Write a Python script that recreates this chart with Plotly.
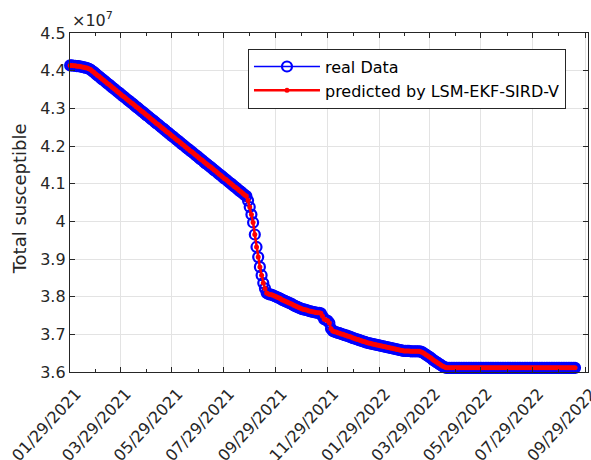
import pandas as pd
import plotly.graph_objects as go

# Total susceptible population (x 1e7), sampled every 2 days from 01/29/2021
start_date = "2021-01-29"
step = "2D"
real_values = [
    4.414, 4.414, 4.413, 4.413, 4.412, 4.412, 4.411, 4.410, 4.409, 4.408,
    4.407, 4.405, 4.403, 4.399, 4.396, 4.392, 4.388, 4.385, 4.381, 4.377,
    4.374, 4.370, 4.366, 4.363, 4.359, 4.355, 4.352, 4.348, 4.344, 4.341,
    4.337, 4.333, 4.330, 4.326, 4.322, 4.319, 4.315, 4.312, 4.308, 4.304,
    4.301, 4.297, 4.293, 4.290, 4.286, 4.282, 4.279, 4.275, 4.271, 4.268,
    4.264, 4.260, 4.257, 4.253, 4.249, 4.246, 4.242, 4.238, 4.235, 4.231,
    4.227, 4.224, 4.220, 4.216, 4.213, 4.209, 4.205, 4.202, 4.198, 4.194,
    4.191, 4.187, 4.184, 4.180, 4.176, 4.173, 4.169, 4.165, 4.162, 4.158,
    4.154, 4.151, 4.147, 4.144, 4.140, 4.136, 4.133, 4.129, 4.125, 4.122,
    4.118, 4.114, 4.111, 4.107, 4.103, 4.100, 4.096, 4.092, 4.089, 4.085,
    4.081, 4.078, 4.074, 4.070, 4.067, 4.055, 4.038, 4.018, 3.997, 3.965,
    3.932, 3.905, 3.879, 3.857, 3.836, 3.822, 3.810, 3.807, 3.806, 3.805,
    3.803, 3.801, 3.799, 3.797, 3.795, 3.792, 3.790, 3.788, 3.786, 3.784,
    3.782, 3.780, 3.777, 3.775, 3.773, 3.771, 3.769, 3.767, 3.766, 3.765,
    3.764, 3.762, 3.761, 3.760, 3.759, 3.758, 3.757, 3.757, 3.756, 3.748,
    3.740, 3.738, 3.736, 3.730, 3.715, 3.709, 3.707, 3.706, 3.704, 3.703,
    3.701, 3.700, 3.698, 3.697, 3.695, 3.694, 3.692, 3.690, 3.689, 3.687,
    3.686, 3.684, 3.683, 3.681, 3.680, 3.678, 3.677, 3.676, 3.675, 3.674,
    3.673, 3.672, 3.671, 3.670, 3.669, 3.668, 3.667, 3.666, 3.665, 3.664,
    3.663, 3.662, 3.661, 3.660, 3.659, 3.658, 3.657, 3.656, 3.656, 3.656,
    3.656, 3.655, 3.655, 3.655, 3.655, 3.655, 3.655, 3.654, 3.652, 3.649,
    3.646, 3.643, 3.640, 3.637, 3.633, 3.630, 3.627, 3.624, 3.621, 3.618,
    3.615, 3.613, 3.611, 3.611, 3.611, 3.611, 3.611, 3.611, 3.611, 3.611,
    3.611, 3.611, 3.611, 3.611, 3.611, 3.611, 3.611, 3.611, 3.611, 3.611,
    3.611, 3.611, 3.611, 3.611, 3.611, 3.611, 3.611, 3.611, 3.611, 3.611,
    3.611, 3.611, 3.611, 3.611, 3.611, 3.611, 3.611, 3.611, 3.611, 3.611,
    3.611, 3.611, 3.611, 3.611, 3.611, 3.611, 3.611, 3.611, 3.611, 3.611,
    3.611, 3.611, 3.611, 3.611, 3.611, 3.611, 3.611, 3.611, 3.611, 3.611,
    3.611, 3.611, 3.611, 3.611, 3.611, 3.611, 3.611, 3.611, 3.611, 3.611,
    3.611, 3.611, 3.611, 3.611, 3.611, 3.611, 3.611, 3.611, 3.611,
]
# The filter output follows the observations closely
predicted_values = list(real_values)

y_tick_values = [3.6, 3.7, 3.8, 3.9, 4.0, 4.1, 4.2, 4.3, 4.4, 4.5]
y_tick_labels = ["3.6", "3.7", "3.8", "3.9", "4", "4.1", "4.2", "4.3", "4.4", "4.5"]

x_tick_dates = [
    "2021-01-29", "2021-03-29", "2021-05-29", "2021-07-29", "2021-09-29",
    "2021-11-29", "2022-01-29", "2022-03-29", "2022-05-29", "2022-07-29",
    "2022-09-29",
]
x_minor_dates = [
    "2021-02-28", "2021-04-29", "2021-06-29", "2021-08-29", "2021-10-29",
    "2021-12-29", "2022-02-28", "2022-04-29", "2022-06-29", "2022-08-29",
]
x_range = ["2021-01-28 20:00", "2022-10-02 08:00"]

dates = pd.date_range(start_date, periods=len(real_values), freq=step)
x_tick_labels = [pd.Timestamp(d).strftime("%m/%d/%Y") for d in x_tick_dates]

ink = "#262626"
font_family = "DejaVu Sans"

fig = go.Figure()
fig.add_trace(go.Scatter(
    x=dates, y=real_values, name="real Data",
    mode="lines+markers", cliponaxis=False,
    line=dict(color="#0000ff", width=1.3),
    marker=dict(symbol="circle-open", size=10, color="#0000ff",
                line=dict(color="#0000ff", width=2.2)),
))
fig.add_trace(go.Scatter(
    x=dates, y=predicted_values, name="predicted by LSM-EKF-SIRD-V",
    mode="lines+markers", cliponaxis=False,
    line=dict(color="#ff0000", width=2.5),
    marker=dict(symbol="circle", size=5, color="#ff0000"),
))

axis_common = dict(
    showline=True, linecolor=ink, linewidth=1.3, mirror="ticks",
    ticks="inside", ticklen=5, tickcolor=ink, tickwidth=1,
    showgrid=True, gridcolor="#e3e3e3", gridwidth=1,
    zeroline=False, automargin=False, ticklabeloverflow="allow",
    tickfont=dict(family=font_family, size=16, color=ink),
)

fig.update_xaxes(
    type="date", range=x_range,
    tickmode="array", tickvals=x_tick_dates, ticktext=x_tick_labels,
    tickangle=-47, ticklabelshift=6, ticklabelstandoff=5,
    minor=dict(tickmode="array", tickvals=x_minor_dates, ticks="inside",
               ticklen=3, tickcolor=ink, showgrid=False),
    **axis_common,
)
fig.update_yaxes(
    range=[3.6, 4.5], tickmode="array",
    tickvals=y_tick_values, ticktext=y_tick_labels,
    **axis_common,
)

fig.update_layout(
    width=591, height=460,
    margin=dict(l=70, r=3, t=33, b=88),
    paper_bgcolor="white", plot_bgcolor="white",
    font=dict(family=font_family, color=ink),
    showlegend=True,
    legend=dict(
        x=0.3436, y=0.954, xanchor="left", yanchor="top",
        bgcolor="white", bordercolor=ink, borderwidth=1,
        font=dict(family=font_family, size=16, color="#000000"),
        itemwidth=66, tracegroupgap=0,
    ),
    annotations=[
        dict(text="×10<sup>7</sup>", xref="paper", yref="paper",
             x=0, y=1, xanchor="left", yanchor="bottom", yshift=1,
             showarrow=False, font=dict(family=font_family, size=16, color=ink)),
        dict(text="Total susceptible", xref="paper", yref="paper",
             x=-0.098, y=0.51, xanchor="center", yanchor="middle",
             textangle=-90, showarrow=False,
             font=dict(family=font_family, size=18, color=ink)),
    ],
)

fig.write_html("out.html")
